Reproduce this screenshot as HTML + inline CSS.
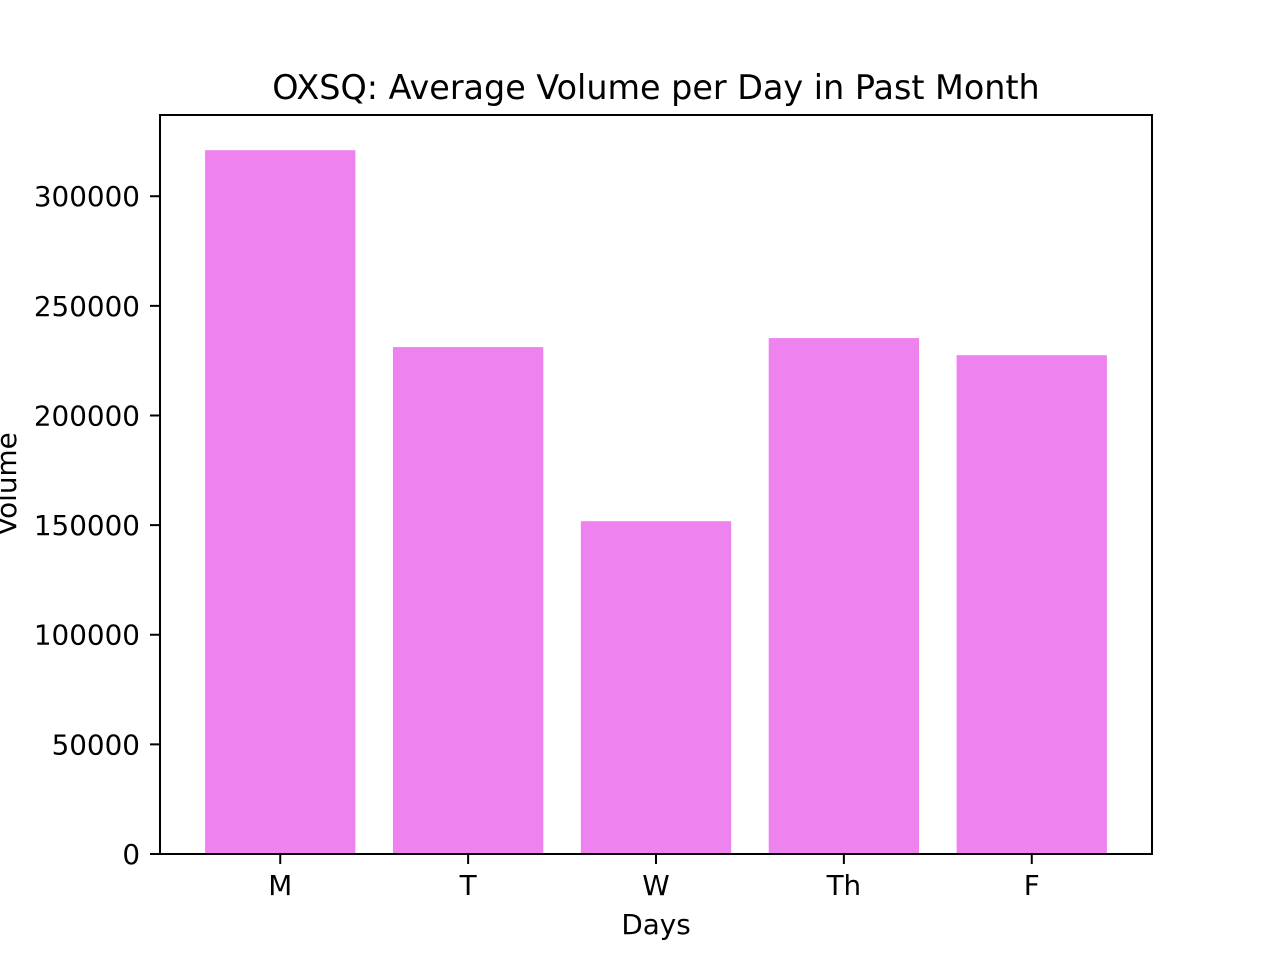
<!DOCTYPE html>
<html><head><meta charset="utf-8"><style>
html,body{margin:0;padding:0;background:#fff;}
svg text{font-family:"DejaVu Sans","Liberation Sans",sans-serif;fill:#000;}
</style></head><body>
<svg id="chart" width="1280" height="960" xmlns="http://www.w3.org/2000/svg">
<rect width="1280" height="960" fill="#fff"/>
<text x="656" y="99" font-size="33.4" text-anchor="middle">OXSQ: Average Volume per Day in Past Month</text>
<g id="bars"></g>
<g id="axes"></g>
<rect x="160" y="115" width="992" height="739" fill="none" stroke="#000" stroke-width="2"/>
<text x="656" y="934" font-size="27.8" text-anchor="middle">Days</text>
<text transform="translate(16,484) rotate(-90)" font-size="27.8" text-anchor="middle">Volume</text>
</svg>
<script>
const categories = ["M","T","W","Th","F"];
const volumes = [321000, 231200, 151800, 235300, 227500];
const yTicks = [0,50000,100000,150000,200000,250000,300000];

const L=160,R=1152,T=115,B=854;
const ymax=Math.max(...volumes)*1.05;
const xmin=-0.64,xmax=categories.length-1+0.64;
const xs=v=>L+(v-xmin)/(xmax-xmin)*(R-L);
const ys=v=>B-v/ymax*(B-T);
const NS="http://www.w3.org/2000/svg";
const bars=document.getElementById('bars'),axes=document.getElementById('axes');
function mk(tag,attrs,parent){const e=document.createElementNS(NS,tag);for(const k in attrs)e.setAttribute(k,attrs[k]);parent.appendChild(e);return e;}
categories.forEach((c,i)=>{
  const x0=xs(i-0.4),x1=xs(i+0.4),y=ys(volumes[i]);
  const r=mk('rect',{x:x0,y:y,width:x1-x0,height:B-y,fill:'#EE82EE'},bars);
  
  
  const cx=xs(i);
  const t=mk('line',{x1:cx,x2:cx,y1:B,y2:B+10,stroke:'#000','stroke-width':2},axes);
  
  
  const lb=mk('text',{x:cx,y:B+41,'font-size':27.8,'text-anchor':'middle'},axes);
  lb.textContent=c;
  
  
});
yTicks.forEach(v=>{
  const y=ys(v);
  const t=mk('line',{x1:L-10,x2:L,y1:y,y2:y,stroke:'#000','stroke-width':2},axes);
  
  
  const lb=mk('text',{x:L-20,y:y+10,'font-size':27.8,'text-anchor':'end'},axes);
  lb.textContent=String(v);
  
  
});
</script>
</body></html>
